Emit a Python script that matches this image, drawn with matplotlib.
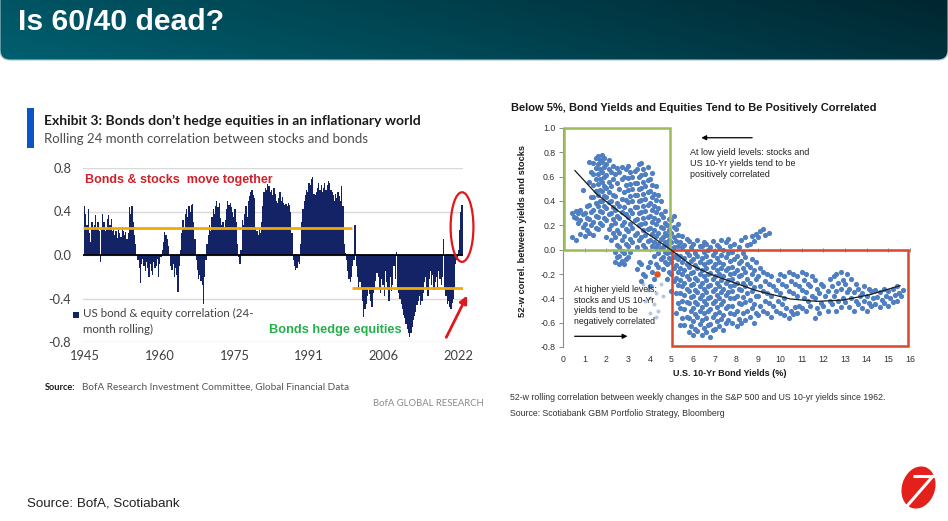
import numpy as np
import matplotlib
matplotlib.use("Agg")
import matplotlib.pyplot as plt
from matplotlib.patches import Ellipse, Rectangle, FancyBboxPatch

# ---------------------------------------------------------------- DATA
# Left chart: rolling 24-month US stock/bond correlation, quarterly readings from 1945
bar_start_year = 1945.0
bar_step = 0.25
stock_bond_corr = [
    0.45, 0.38, 0.28, 0.42,   # 1945
    0.20, 0.12, 0.30, 0.26,   # 1946
    0.28, 0.37, 0.25, 0.30,   # 1947
    0.22, -0.06, 0.24, 0.38,  # 1948
    0.30, 0.22, 0.25, 0.33,   # 1949
    0.37, 0.28, 0.33, 0.22,   # 1950
    0.25, 0.18, 0.22, 0.16,   # 1951
    0.24, 0.20, 0.17, 0.26,   # 1952
    0.22, 0.18, 0.21, 0.15,   # 1953
    0.20, 0.44, 0.38, 0.45,   # 1954
    0.30, 0.18, 0.10, 0.00,   # 1955
    -0.05, -0.12, -0.26, -0.08,  # 1956
    -0.04, -0.10, -0.15, -0.06,  # 1957
    -0.12, -0.20, -0.08, -0.15,  # 1958
    -0.18, -0.06, -0.12, -0.10,  # 1959
    -0.04, -0.20, -0.08, -0.02,  # 1960
    0.05, 0.12, 0.21, 0.18,   # 1961
    0.15, 0.08, 0.00, -0.10,  # 1962
    -0.14, -0.08, -0.20, -0.12,  # 1963
    -0.18, -0.34, -0.10, 0.05,   # 1964
    0.20, 0.32, 0.25, 0.38,   # 1965
    0.42, 0.35, 0.45, 0.40,   # 1966
    0.46, 0.47, 0.30, 0.15,   # 1967
    -0.05, -0.14, -0.22, -0.18,  # 1968
    -0.24, -0.28, -0.45, -0.20,  # 1969
    -0.05, 0.10, 0.18, 0.28,  # 1970
    0.22, 0.35, 0.42, 0.38,   # 1971
    0.45, 0.50, 0.44, 0.48,   # 1972
    0.34, 0.28, 0.30, 0.26,   # 1973
    0.32, 0.42, 0.50, 0.46,   # 1974
    0.48, 0.44, 0.40, 0.35,   # 1975
    0.42, 0.30, 0.10, -0.02,  # 1976
    -0.08, 0.05, 0.32, 0.28,  # 1977
    0.38, 0.45, 0.35, 0.50,   # 1978
    0.54, 0.58, 0.60, 0.55,   # 1979
    0.52, 0.26, 0.22, 0.18,   # 1980
    0.25, 0.20, 0.30, 0.45,   # 1981
    0.58, 0.62, 0.60, 0.65,   # 1982
    0.63, 0.58, 0.60, 0.55,   # 1983
    0.62, 0.56, 0.50, 0.48,   # 1984
    0.52, 0.58, 0.50, 0.53,   # 1985
    0.48, 0.46, 0.47, 0.45,   # 1986
    0.48, 0.46, 0.40, 0.20,   # 1987
    -0.05, -0.10, -0.14, -0.12,  # 1988
    -0.06, -0.08, 0.10, 0.30,    # 1989
    0.42, 0.50, 0.55, 0.60,   # 1990
    0.58, 0.66, 0.64, 0.70,   # 1991
    0.72, 0.56, 0.55, 0.58,   # 1992
    0.62, 0.66, 0.60, 0.64,   # 1993
    0.58, 0.62, 0.66, 0.60,   # 1994
    0.64, 0.68, 0.66, 0.60,   # 1995
    0.58, 0.55, 0.50, 0.56,   # 1996
    0.52, 0.58, 0.54, 0.50,   # 1997
    0.63, 0.45, 0.10, 0.02,   # 1998
    -0.05, -0.15, -0.22, -0.25,  # 1999
    -0.20, -0.10, -0.05, 0.28,   # 2000
    -0.10, -0.20, -0.32, -0.25,  # 2001
    -0.30, -0.42, -0.57, -0.50,  # 2002
    -0.45, -0.38, -0.30, -0.36,  # 2003
    -0.42, -0.48, -0.35, -0.30,  # 2004
    -0.24, -0.17, -0.20, -0.30,  # 2005
    -0.35, -0.22, -0.28, -0.38,  # 2006
    -0.15, -0.25, -0.30, -0.42,  # 2007
    -0.20, -0.33, -0.28, -0.10,  # 2008
    -0.22, 0.03, -0.30, -0.35,   # 2009
    -0.40, -0.45, -0.50, -0.55,  # 2010
    -0.58, -0.63, -0.68, -0.72,  # 2011
    -0.75, -0.72, -0.66, -0.60,  # 2012
    -0.56, -0.52, -0.46, -0.42,  # 2013
    -0.38, -0.46, -0.42, -0.35,  # 2014
    -0.25, -0.20, -0.30, -0.38,  # 2015
    -0.22, -0.15, -0.28, -0.18,  # 2016
    -0.32, -0.25, -0.20, -0.30,  # 2017
    -0.15, -0.22, -0.28, -0.20,  # 2018
    0.15, -0.30, -0.38, -0.45,   # 2019
    -0.42, -0.48, -0.50, -0.44,  # 2020
    -0.40, -0.30, -0.08, -0.05,  # 2021
    0.05, 0.23, 0.40, 0.46,      # 2022
]
bofa_tick_years = [1945.2, 1960.7, 1976.1, 1991.4, 2006.6, 2022.1]
bofa_tick_labels = ["1945", "1960", "1975", "1991", "2006", "2022"]
bofa_yticks = [-0.8, -0.4, 0.0, 0.4, 0.8]
bofa_ytick_labels = ["-0.8", "-0.4", "0.0", "0.4", "0.8"]
avg_levels = [0.245, -0.30]
avg_spans = [(1944.8, 2000.2), (2000.2, 2023.1)]

# Right chart: 52-w correlation vs US 10-yr yield (readings grouped in 0.2-wide yield bins)
cloud_bin_width = 0.2
cloud_cols = {
    0.4: [0.10, 0.27, 0.30],
    0.6: [0.08, 0.22, 0.26, 0.30, 0.32],
    0.8: [0.13, 0.19, 0.24, 0.29, 0.33, 0.49],
    1.0: [0.11, 0.16, 0.21, 0.26, 0.30, 0.36],
    1.2: [0.14, 0.20, 0.25, 0.31, 0.37, 0.43, 0.56, 0.64, 0.72],
    1.4: [0.12, 0.18, 0.23, 0.28, 0.33, 0.38, 0.43, 0.48, 0.53, 0.58, 0.62, 0.67, 0.71, 0.75],
    1.6: [0.17, 0.22, 0.27, 0.32, 0.36, 0.40, 0.45, 0.49, 0.54, 0.58, 0.62, 0.66, 0.70, 0.74, 0.77],
    1.8: [0.20, 0.26, 0.31, 0.36, 0.40, 0.44, 0.48, 0.52, 0.56, 0.60, 0.64, 0.68, 0.72, 0.75, 0.78],
    2.0: [0.10, 0.17, 0.24, 0.29, 0.34, 0.39, 0.43, 0.47, 0.51, 0.56, 0.61, 0.66, 0.70, 0.74],
    2.2: [0.08, 0.14, 0.20, 0.25, 0.30, 0.35, 0.40, 0.45, 0.52, 0.58, 0.64, 0.69],
    2.4: [-0.10, -0.06, -0.02, 0.04, 0.10, 0.16, 0.22, 0.28, 0.33, 0.38, 0.44, 0.55, 0.62, 0.67],
    2.6: [-0.12, -0.09, -0.05, -0.01, 0.02, 0.08, 0.14, 0.20, 0.26, 0.31, 0.36, 0.42, 0.50, 0.58, 0.64, 0.68],
    2.8: [-0.12, -0.08, -0.03, 0.05, 0.11, 0.17, 0.23, 0.29, 0.35, 0.41, 0.47, 0.53, 0.60, 0.66],
    3.0: [-0.06, -0.02, 0.03, 0.09, 0.15, 0.21, 0.27, 0.33, 0.39, 0.44, 0.49, 0.54, 0.59, 0.64, 0.69],
    3.2: [0.06, 0.12, 0.18, 0.24, 0.30, 0.35, 0.40, 0.45, 0.50, 0.55, 0.60, 0.65],
    3.4: [-0.16, -0.10, 0.02, 0.08, 0.14, 0.20, 0.25, 0.30, 0.35, 0.40, 0.45, 0.50, 0.55, 0.60, 0.66, 0.70],
    3.6: [-0.26, -0.20, -0.12, 0.04, 0.10, 0.16, 0.21, 0.26, 0.31, 0.36, 0.41, 0.46, 0.51, 0.56, 0.61, 0.66, 0.71],
    3.8: [-0.22, -0.14, 0.01, 0.07, 0.12, 0.17, 0.22, 0.27, 0.32, 0.37, 0.42, 0.47, 0.52, 0.57, 0.62, 0.68],
    4.0: [-0.30, -0.18, -0.10, 0.03, 0.08, 0.13, 0.18, 0.23, 0.28, 0.33, 0.38, 0.43, 0.48, 0.53, 0.58, 0.63],
    4.2: [-0.24, -0.12, -0.05, 0.02, 0.06, 0.11, 0.16, 0.21, 0.26, 0.31, 0.36, 0.41, 0.46, 0.52],
    4.4: [-0.14, -0.08, -0.03, 0.01, 0.05, 0.09, 0.14, 0.19, 0.24, 0.29, 0.34, 0.40, 0.45],
    4.6: [-0.16, -0.10, -0.06, -0.02, 0.02, 0.06, 0.10, 0.14, 0.18, 0.22, 0.27, 0.32],
    4.8: [-0.24, -0.18, -0.12, -0.07, -0.03, 0.01, 0.04, 0.08, 0.12, 0.16, 0.20, 0.25],
    5.0: [-0.34, -0.26, -0.20, -0.15, -0.10, -0.06, -0.02, 0.02, 0.06, 0.10, 0.14, 0.19, 0.24, 0.28],
    5.2: [-0.52, -0.44, -0.36, -0.29, -0.23, -0.18, -0.13, -0.08, -0.04, 0.03, 0.07, 0.12, 0.17, 0.21],
    5.4: [-0.62, -0.56, -0.48, -0.42, -0.36, -0.30, -0.25, -0.20, -0.15, -0.10, -0.05, 0.02, 0.06, 0.11],
    5.6: [-0.62, -0.55, -0.49, -0.43, -0.37, -0.32, -0.27, -0.22, -0.17, -0.12, -0.07, -0.02, 0.04, 0.09],
    5.8: [-0.68, -0.63, -0.56, -0.50, -0.44, -0.39, -0.34, -0.29, -0.24, -0.19, -0.14, -0.09, -0.04, 0.02, 0.07],
    6.0: [-0.70, -0.65, -0.59, -0.53, -0.48, -0.43, -0.38, -0.33, -0.28, -0.23, -0.18, -0.13, -0.08, -0.03, 0.05],
    6.2: [-0.67, -0.61, -0.55, -0.50, -0.45, -0.40, -0.35, -0.30, -0.25, -0.20, -0.15, -0.10, -0.05, 0.03, 0.08],
    6.4: [-0.70, -0.64, -0.58, -0.52, -0.47, -0.42, -0.37, -0.32, -0.27, -0.22, -0.17, -0.12, -0.07, -0.02, 0.03, 0.06],
    6.6: [-0.68, -0.62, -0.56, -0.50, -0.45, -0.40, -0.35, -0.30, -0.25, -0.20, -0.15, -0.10, -0.05, 0.00, 0.05],
    6.8: [-0.72, -0.66, -0.61, -0.55, -0.49, -0.44, -0.39, -0.34, -0.29, -0.24, -0.19, -0.14, -0.09, -0.04, 0.02, 0.07],
    7.0: [-0.65, -0.59, -0.53, -0.47, -0.42, -0.37, -0.32, -0.27, -0.22, -0.17, -0.12, -0.07, -0.02, 0.04],
    7.2: [-0.63, -0.57, -0.51, -0.45, -0.40, -0.35, -0.30, -0.25, -0.20, -0.15, -0.10, -0.04, 0.02, 0.08],
    7.4: [-0.66, -0.60, -0.54, -0.48, -0.42, -0.37, -0.32, -0.27, -0.22, -0.17, -0.12, -0.06, 0.00, 0.06],
    7.6: [-0.58, -0.52, -0.46, -0.40, -0.35, -0.30, -0.25, -0.20, -0.15, -0.09, -0.03, 0.03, 0.09],
    7.8: [-0.60, -0.53, -0.46, -0.40, -0.34, -0.29, -0.24, -0.19, -0.14, -0.08, -0.02, 0.05],
    8.0: [-0.63, -0.57, -0.50, -0.44, -0.38, -0.32, -0.27, -0.22, -0.17, -0.11, -0.05, 0.02],
    8.2: [-0.60, -0.52, -0.45, -0.39, -0.33, -0.27, -0.21, -0.15, -0.09, -0.03, 0.08],
    8.4: [-0.58, -0.50, -0.43, -0.36, -0.30, -0.24, -0.18, -0.12, -0.06, 0.04, 0.10],
    8.6: [-0.55, -0.48, -0.41, -0.34, -0.27, -0.20, -0.14, -0.08, 0.05, 0.11],
    8.8: [-0.60, -0.52, -0.45, -0.38, -0.31, -0.24, -0.17, -0.10, 0.07, 0.13],
    9.0: [-0.54, -0.46, -0.38, -0.30, -0.22, -0.15, 0.10, 0.15],
    9.2: [-0.50, -0.42, -0.34, -0.26, -0.18, 0.12, 0.17],
    9.4: [-0.52, -0.44, -0.36, -0.28, -0.20, 0.14],
    9.6: [-0.55, -0.46, -0.38, -0.30, -0.22],
    9.8: [-0.50, -0.42, -0.33, -0.25],
    10.0: [-0.52, -0.45, -0.36, -0.28, -0.20],
    10.2: [-0.54, -0.48, -0.40, -0.30, -0.22],
    10.4: [-0.56, -0.50, -0.34, -0.26, -0.18],
    10.6: [-0.53, -0.47, -0.36, -0.28, -0.20],
    10.8: [-0.52, -0.46, -0.38, -0.30, -0.22],
    11.0: [-0.48, -0.40, -0.33, -0.25, -0.18],
    11.2: [-0.50, -0.42, -0.35, -0.28, -0.20],
    11.4: [-0.46, -0.38, -0.30, -0.22],
    11.6: [-0.56, -0.48, -0.40, -0.32, -0.25],
    11.8: [-0.52, -0.44, -0.36, -0.28],
    12.0: [-0.46, -0.38, -0.30],
    12.2: [-0.50, -0.42, -0.34, -0.24],
    12.4: [-0.45, -0.38, -0.30, -0.22],
    12.6: [-0.50, -0.42, -0.34, -0.27, -0.20],
    12.8: [-0.47, -0.40, -0.32, -0.25, -0.18],
    13.0: [-0.43, -0.35, -0.28, -0.20],
    13.2: [-0.47, -0.40, -0.32, -0.24],
    13.4: [-0.50, -0.42, -0.35, -0.28],
    13.6: [-0.45, -0.38, -0.32],
    13.8: [-0.48, -0.42, -0.36, -0.30],
    14.0: [-0.50, -0.44, -0.38, -0.32],
    14.2: [-0.46, -0.40, -0.34],
    14.4: [-0.45, -0.39, -0.33],
    14.6: [-0.47, -0.41, -0.35],
    14.8: [-0.44, -0.38, -0.32],
    15.0: [-0.46, -0.40, -0.34],
    15.2: [-0.43, -0.37, -0.32],
    15.4: [-0.42, -0.36, -0.30],
    15.6: [-0.38, -0.33],
}
faint_x = [3.7, 3.9, 4.0, 4.1, 4.2, 4.3, 4.4, 4.0, 3.8, 4.5, 4.6, 4.3]
faint_y = [-0.28, -0.33, -0.40, -0.30, -0.45, -0.36, -0.50, -0.52, -0.42, -0.28, -0.38, -0.55]
trend_x = [0.55, 1.55, 2.63, 3.70, 4.93, 5.90, 6.78, 7.39, 8.93, 10.47, 11.70, 12.92, 14.15, 15.54]
trend_y = [0.65, 0.457, 0.307, 0.156, 0.005, -0.125, -0.20, -0.24, -0.337, -0.405, -0.425, -0.414, -0.37, -0.296]
latest_pt_x, latest_pt_y = 4.33, -0.20
scat_xticks = list(range(17))
scat_yticks = [-0.8, -0.6, -0.4, -0.2, 0.0, 0.2, 0.4, 0.6, 0.8, 1.0]
low_box = (0.03, 0.0, 4.95, 1.0)      # x0, y0, x1, y1
high_box = (5.02, -0.79, 15.9, 0.0)

# ---------------------------------------------------------------- FIGURE
W, H = 948, 521
fig = plt.figure(figsize=(W / 100, H / 100), dpi=100)
fig.patch.set_facecolor("white")
R = fig.canvas.get_renderer()

NAVY = "#142266"
RED = "#e0181e"
ORANGE = "#f2a900"
GREEN_T = "#22b04b"
BLUE_PT = "#4f7fc0"

def fax(px0, py0, px1, py1, **kw):
    return fig.add_axes([px0 / W, 1 - py1 / H, (px1 - px0) / W, (py1 - py0) / H], **kw)

# ---- banner
bax = fax(0, 0, W, 62)
bax.set_xlim(0, W)
bax.set_ylim(62, 0)
bax.axis("off")
gx, gy = np.meshgrid(np.linspace(0, 1, 300), np.linspace(0, 1, 40))
s = np.clip(0.8 * gx + 0.2 * (1 - gy), 0, 1)[..., None]
ca = np.array([0, 96, 112]) / 255
cb = np.array([0, 38, 48]) / 255
img = ca * (1 - s) + cb * s
im = bax.imshow(img, extent=[0, W, 62, 0], aspect="auto", interpolation="bilinear")
clip = FancyBboxPatch((0, -20), W, 80, boxstyle="round,pad=0,rounding_size=10",
                      transform=bax.transData, facecolor="none", edgecolor="#a9c4ca", lw=0.8)
bax.add_patch(clip)
im.set_clip_path(clip)

# ---- left chart (BofA)
axL = fax(83, 168, 463, 342)
xpos = bar_start_year + bar_step * np.arange(len(stock_bond_corr)) + bar_step / 2
axL.bar(xpos, stock_bond_corr, width=bar_step * 1.08, color=NAVY, linewidth=0, zorder=2)
axL.set_xlim(1944.8, 2023.1)
axL.set_ylim(-0.8, 0.8)
axL.set_yticks(bofa_yticks)
axL.set_xticks(bofa_tick_years)
axL.grid(axis="y", color="#d9d9d9", lw=1.0, zorder=0)
axL.set_axisbelow(True)
for sp in axL.spines.values():
    sp.set_visible(False)
axL.axhline(0, color="black", lw=1.3, zorder=3)
for lev, (a, b) in zip(avg_levels, avg_spans):
    axL.hlines(lev, a, b, color=ORANGE, lw=2.0, zorder=4)
axL.add_patch(Ellipse((2022.9, 0.257), 4.7, 0.64, fill=False, ec=RED, lw=1.6,
                      clip_on=False, zorder=5))
axL.annotate("", xy=(2024.2, -0.35), xytext=(2019.4, -0.78),
             arrowprops=dict(arrowstyle="-|>", color=RED, lw=2.0, mutation_scale=11),
             annotation_clip=False, zorder=5)

# tick label size fitted to the width of "1945"
tmp = fig.text(0, 0, "1945", family="Lato", fontsize=10)
tick_fs = 10 * 30 / tmp.get_window_extent(R).width
tmp.remove()
axL.set_xticklabels(bofa_tick_labels, family="Lato", fontsize=tick_fs, color="#404040")
axL.set_yticklabels(bofa_ytick_labels, family="Lato", fontsize=tick_fs, color="#404040")
axL.tick_params(length=0)
axL.tick_params(axis="y", pad=8.5)
axL.tick_params(axis="x", pad=6)

# ---- right chart (Scotiabank)
axR = fax(563, 128, 910, 347)
axR.set_xlim(0, 16)
axR.set_ylim(-0.8, 1.0)
cx, cy = [], []
for xv, ys in cloud_cols.items():
    # readings of one bin are spread over the two halves of the bin
    cx += [xv + (cloud_bin_width / 2) * (i % 2) for i in range(len(ys))]
    cy += ys
axR.scatter(faint_x, faint_y, s=8, color="#b3c6e4", linewidths=0, zorder=2)
axR.scatter(cx, cy, s=14, color=BLUE_PT, linewidths=0, zorder=3)
axR.plot(trend_x, trend_y, color="#1a1a1a", lw=0.9, zorder=5)
axR.scatter([latest_pt_x], [latest_pt_y], s=22, color="#e2501c", linewidths=0, zorder=6)
axR.add_patch(Rectangle((low_box[0], low_box[1]), low_box[2] - low_box[0], low_box[3] - low_box[1],
                        fill=False, ec="#9bbb59", lw=1.8, clip_on=False, zorder=4))
axR.add_patch(Rectangle((high_box[0], high_box[1]), high_box[2] - high_box[0], high_box[3] - high_box[1],
                        fill=False, ec="#d9482b", lw=1.8, clip_on=False, zorder=4))
for sp in ["top", "right", "bottom"]:
    axR.spines[sp].set_visible(False)
axR.spines["left"].set_color("#8c8c8c")
axR.spines["left"].set_linewidth(0.8)
axR.axhline(0, color="#8c8c8c", lw=0.8, zorder=1)
axR.plot(scat_xticks, [0] * len(scat_xticks), ls="none", marker="|", ms=3.5,
         mew=0.7, color="#8c8c8c", zorder=1)
axR.set_xticks(scat_xticks)
axR.set_yticks(scat_yticks)
axR.set_xticklabels([str(v) for v in scat_xticks])
axR.set_yticklabels(["%.1f" % v for v in scat_yticks])
axR.tick_params(axis="x", length=0, labelsize=6.3, pad=5.5, labelcolor="#333333")
axR.tick_params(axis="y", direction="out", length=3, width=0.7, color="#8c8c8c",
                labelsize=6.3, pad=2.5, labelcolor="#333333")
for lab in axR.get_xticklabels() + axR.get_yticklabels():
    lab.set_family("Liberation Sans")
axR.annotate("", xy=(6.25, 0.92), xytext=(8.85, 0.92),
             arrowprops=dict(arrowstyle="-|>", color="black", lw=0.9, mutation_scale=7),
             annotation_clip=False)
axR.annotate("", xy=(3.1, -0.712), xytext=(0.41, -0.712),
             arrowprops=dict(arrowstyle="-|>", color="black", lw=0.9, mutation_scale=7),
             annotation_clip=False)

# ---- overlay in pixel coordinates for texts and decorations
ov = fig.add_axes([0, 0, 1, 1], zorder=20)
ov.set_xlim(0, W)
ov.set_ylim(H, 0)
ov.axis("off")
ov.patch.set_alpha(0)

def put(px, py, txt, width=None, height=None, size=10, **kw):
    kw.setdefault("va", "center")
    t = ov.text(px, py, txt, fontsize=size, **kw)
    if width or height:
        bb = t.get_window_extent(renderer=R)
        cur = bb.width if width else bb.height
        t.set_fontsize(size * (width or height) / cur)
    return t

put(18, 30, "Is 60/40 dead?", width=207, color="white", weight="bold",
    family="Liberation Sans", va="baseline")

# left block texts
ov.add_patch(Rectangle((27, 108), 7, 40, color="#0a55c6", lw=0))
put(44, 121, "Exhibit 3: Bonds don\u2019t hedge equities in an inflationary world", width=378,
    family="Lato", weight="bold", color="#1a1a1a")
put(44, 139, "Rolling 24 month correlation between stocks and bonds", width=324,
    family="Lato", color="#4d4d4d")
put(85, 180, "Bonds & stocks  move together", width=188, family="Liberation Sans",
    weight="bold", color="#d0202a")
put(269, 330, "Bonds hedge equities", width=133, family="Liberation Sans",
    weight="bold", color=GREEN_T)
ov.add_patch(Rectangle((73, 312), 6, 5.5, color=NAVY, lw=0))
leg = put(83, 313, "US bond & equity correlation (24-", width=172, family="Lato", color="#404040")
put(83, 329, "month rolling)", size=leg.get_fontsize(), family="Lato", color="#404040")
put(45, 387, "Source:", width=31, family="Lato", weight="bold", color="#1a1a1a")
put(82, 387, "BofA Research Investment Committee, Global Financial Data", width=268,
    family="Lato", color="#555555")
put(373, 403, "BofA GLOBAL RESEARCH", width=110, family="Lato", color="#8a8a8a")

# right block texts
put(511, 108, "Below 5%, Bond Yields and Equities Tend to Be Positively Correlated", width=366,
    family="Liberation Sans", weight="bold", color="#1a1a1a")
put(523, 231, "52-w correl. between yields and stocks", height=171, rotation=90, ha="center",
    family="Liberation Sans", weight="bold", color="#1a1a1a")
put(730, 373, "U.S. 10-Yr Bond Yields (%)", width=114, ha="center",
    family="Liberation Sans", weight="bold", color="#1a1a1a")
t1 = put(690, 152.5, "At low yield levels: stocks and", width=119, family="Liberation Sans",
         color="#222222")
for i, line in enumerate(["US 10-Yr yields tend to be", "positively correlated"]):
    put(690, 163.5 + 11 * i, line, size=t1.get_fontsize(), family="Liberation Sans", color="#222222")
t2 = put(574, 289.5, "At higher yield levels:", width=83, family="Liberation Sans", color="#222222")
for i, line in enumerate(["stocks and US 10-Yr", "yields tend to be", "negatively correlated"]):
    put(574, 300.2 + 10.6 * i, line, size=t2.get_fontsize(), family="Liberation Sans", color="#222222")
put(510, 398, "52-w rolling correlation between weekly changes in the S&P 500 and US 10-yr yields since 1962.",
    width=375, family="Liberation Sans", color="#333333")
put(510, 413, "Source: Scotiabank GBM Portfolio Strategy, Bloomberg", width=217,
    family="Liberation Sans", color="#333333")

# footer
put(27, 503, "Source: BofA, Scotiabank", width=153, family="Liberation Sans", color="#222222")
ov.add_patch(Ellipse((918.5, 487.5), 33, 43, angle=18, color="#e3201b", lw=0))
ov.plot([913, 937], [475.5, 475.5], color="white", lw=2.2, solid_capstyle="butt")
ov.plot([933.5, 907], [475.5, 506], color="white", lw=2.2, solid_capstyle="butt")

fig.savefig("out.png", dpi=100, facecolor="white")
